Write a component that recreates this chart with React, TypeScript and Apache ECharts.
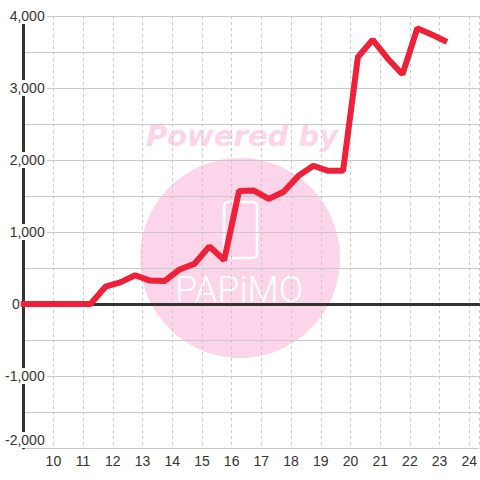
import React, { useEffect, useRef } from "react";
import * as echarts from "echarts";

const hours = [8.9, 11.25, 11.75, 12.25, 12.75, 13.25, 13.75, 14.25, 14.75, 15.25, 15.75, 16.25, 16.75, 17.25, 17.75, 18.25, 18.75, 19.25, 19.75, 20.25, 20.75, 21.25, 21.75, 22.25, 22.75, 23.25];
const values = [0, 0, 240, 300, 400, 325, 320, 480, 560, 800, 610, 1570, 1575, 1460, 1560, 1780, 1920, 1850, 1850, 3430, 3670, 3410, 3190, 3830, 3740, 3640];
const xMin = 9;
const xMax = 24.3333;
const yMin = -2000;
const yMax = 4000;

export default function App() {
  const ref = useRef<HTMLDivElement>(null);
  useEffect(() => {
    if (!ref.current) return;
    const chart = echarts.init(ref.current, undefined, { renderer: "svg" });
    const font = "'Liberation Sans', Arial, sans-serif";
    chart.setOption({
      animation: false,
      grid: { left: 20, right: 0, top: 16, bottom: 32, containLabel: false },
      xAxis: [
        {
          type: "value",
          min: xMin,
          max: xMax,
          interval: 1,
          position: "bottom",
          axisLine: { show: false, onZero: false },
          axisTick: { show: false },
          axisLabel: {
            showMinLabel: false,
            showMaxLabel: false,
            color: "#333",
            fontSize: 14,
            fontFamily: font,
            margin: 6,
          },
          splitLine: { show: true, lineStyle: { color: "#c8c8c8", type: [3, 3], width: 1 } },
        },
        {
          type: "value",
          min: xMin,
          max: xMax,
          interval: 1,
          position: "top",
          axisLine: { show: true, onZero: true, lineStyle: { color: "#333", width: 3 } },
          axisTick: { show: false },
          axisLabel: { show: false },
          splitLine: { show: false },
        },
      ],
      yAxis: {
        type: "value",
        min: yMin,
        max: yMax,
        interval: 1000,
        axisLine: { show: true, onZero: false, lineStyle: { color: "#333", width: 3 } },
        axisTick: { show: false },
        axisLabel: {
          color: "#333",
          fontSize: 14,
          fontFamily: font,
          margin: -23,
          verticalAlignMinLabel: "bottom",
          formatter: (v: number) =>
            v === 0 ? "{z|0}" : "{n|" + v.toLocaleString("en-US") + "}",
          rich: {
            n: {
              color: "#333",
              fontSize: 14,
              fontFamily: font,
              backgroundColor: "#fff",
              padding: [1, 2, 1, 2],
            },
            z: {
              color: "#333",
              fontSize: 14,
              fontFamily: font,
              padding: [0, 27, 0, 0],
            },
          },
        },
        splitLine: { show: true, lineStyle: { color: "#c8c8c8", width: 1 } },
        minorTick: { show: false, splitNumber: 2 },
        minorSplitLine: { show: true, lineStyle: { color: "#c8c8c8", width: 1 } },
      },
      graphic: [
        {
          type: "circle",
          z: -10,
          shape: { cx: 240, cy: 258, r: 100 },
          style: { fill: "#fcd5ea" },
          silent: true,
        },
        {
          type: "text",
          z: -10,
          x: 242,
          y: 136,
          style: {
            text: "Powered by",
            fill: "#fcd5ea",
            font: "italic bold 29px 'DejaVu Sans', sans-serif",
            align: "center",
            verticalAlign: "middle",
          },
          silent: true,
        },
        {
          type: "rect",
          z: -9,
          shape: { x: 224, y: 202, width: 33, height: 56, r: 4 },
          style: { fill: "none", stroke: "#fff", lineWidth: 2.5 },
          silent: true,
        },
        {
          type: "text",
          z: -9,
          x: 239,
          y: 290,
          style: {
            text: "PAPiMO",
            fill: "#fff",
            font: "300 36px Roboto, sans-serif",
            align: "center",
            verticalAlign: "middle",
          },
          silent: true,
        },
      ],
      series: [
        {
          type: "line",
          xAxisIndex: 0,
          data: hours.map((h, i) => [h, values[i]]),
          showSymbol: false,
          symbol: "none",
          clip: false,
          lineStyle: { color: "#ef2139", width: 6 },
          z: 5,
        },
      ],
    });
    return () => chart.dispose();
  }, []);
  return <div ref={ref} style={{ width: 480, height: 480, position: "absolute", left: 0, top: 0 }} />;
}
